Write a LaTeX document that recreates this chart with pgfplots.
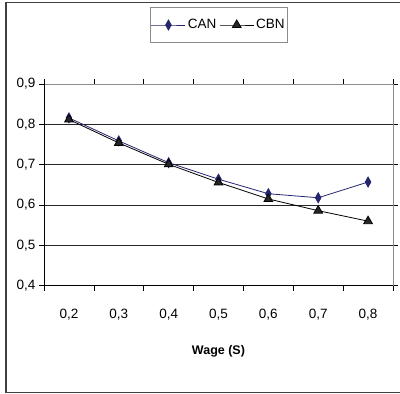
\documentclass[border=0pt]{standalone}
\usepackage{pgfplots}
\pgfplotsset{compat=1.18}
\usepackage{fontspec}
\setmainfont{Liberation Sans}
\definecolor{canblue}{RGB}{38,38,110}
\definecolor{framegray}{RGB}{64,64,64}
\definecolor{boxgray}{RGB}{140,140,140}

\pgfplotstableread{
x  can    cbn
1  0.816  0.812
2  0.759  0.754
3  0.705  0.701
4  0.664  0.656
5  0.628  0.615
6  0.618  0.586
7  0.657  0.560
}\wagedata

\begin{document}
\begin{tikzpicture}
\path[use as bounding box] (0,0) rectangle (400pt,394pt);
% outer chart frame
\draw[framegray, line width=1.3pt] (400pt,391.5pt) -- (6pt,391.5pt) -- (6pt,1.5pt) -- (400pt,1.5pt);
\begin{axis}[
  at={(44pt,108.3pt)}, anchor=south west,
  scale only axis, width=349pt, height=201.7pt,
  xmin=0.5, xmax=7.5, ymin=0.4, ymax=0.9,
  xtick={1,...,7},
  xticklabels={{0,2},{0,3},{0,4},{0,5},{0,6},{0,7},{0,8}},
  minor xtick={0.5,1.5,...,7.5},
  ytick={0.4,0.5,...,0.9},
  yticklabels={{0,4},{0,5},{0,6},{0,7},{0,8},{0,9}},
  tick align=outside,
  major tick length=5pt, minor tick length=5pt,
  major x tick style={draw=none},
  minor x tick style={black, line width=0.6pt},
  major y tick style={black, line width=0.6pt},
  ymajorgrids, major grid style={black!85, line width=0.6pt},
  axis line style={boxgray, line width=0.8pt},
  tick label style={font=\fontsize{13.5}{15}\selectfont},
  xticklabel style={yshift=-15pt},
  xlabel={Wage (S)},
  xlabel style={font=\fontsize{12.5}{14}\selectfont\bfseries, yshift=-18pt},
  legend columns=2,
  legend style={at={(0.501,1.2925)}, anchor=center, draw=boxgray, line width=0.6pt,
    font=\fontsize{13.5}{15}\selectfont, inner xsep=1pt, inner ysep=10pt,
    /tikz/every even column/.append style={column sep=1pt}},
  legend image code/.code={\draw[mark repeat=2, mark phase=2]
    plot coordinates {(0pt,0pt) (17pt,0pt) (34pt,0pt)};},
  legend cell align=left,
]
\addplot[canblue, line width=0.8pt, mark=diamond*, mark size=5pt,
  mark options={fill=canblue, draw=canblue, xscale=0.75}]
  table[x=x, y=can] {\wagedata};
\addlegendentry{CAN}
\addplot[black, line width=0.8pt, mark=triangle*, mark size=5pt,
  mark options={fill=black!85, draw=black}]
  table[x=x, y=cbn] {\wagedata};
\addlegendentry{CBN}
\draw[black, line width=0.8pt] (rel axis cs:0,1) -- (rel axis cs:0,0) -- (rel axis cs:1,0);
\end{axis}
\end{tikzpicture}
\end{document}
